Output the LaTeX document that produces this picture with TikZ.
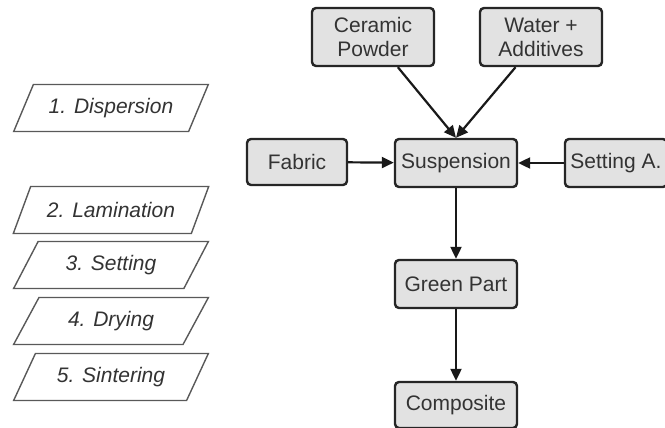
\documentclass[tikz,border=0pt]{standalone}
\usepackage{fontspec}
\setmainfont{Liberation Sans}
\usetikzlibrary{arrows.meta,shapes.geometric}
\definecolor{boxgray}{HTML}{E2E2E2}
\definecolor{txtgray}{HTML}{333333}
\begin{document}
\begin{tikzpicture}
			[x=0.5pt,y=-0.5pt,font=\fontsize{10.5}{12}\selectfont,text=txtgray,
			box/.style={shape=rectangle,rounded corners=2pt,draw=black!85,fill=boxgray,
				line width=1.2pt,minimum width=61pt,minimum height=24pt,inner sep=2pt,align=center},
			stage/.style={shape=trapezium,trapezium left angle=62,trapezium right angle=118,
				trapezium stretches=true,draw=black!65,fill=white,line width=0.7pt,
				minimum width=98pt,minimum height=23.5pt,font=\fontsize{10.5}{12}\selectfont\itshape},
			arc/.style={->,>={Triangle[length=6pt,width=5.5pt]},line width=1.1pt,draw=black!90}]
			\useasboundingbox (0,0) rectangle (665,428);
			\node (cer) [box,minimum height=29pt] at (373,37) {Ceramic\\Powder};
			\node (wat) [box,minimum height=29pt] at (541,37) {Water +\\Additives};
			\node (fab) [box,minimum width=50pt,minimum height=23pt] at (297,162) {Fabric};
			\node (sus) [box] at (456,163) {Suspension};
			\node (set) [box,minimum width=51pt] at (616,163) {Setting A.};
			\node (grn) [box] at (456,284) {Green Part};
			\node (cmp) [box,minimum height=23pt] at (456,405) {Composite};
			
			\node (s1) [stage] at (111,108) {1. Dispersion};
			\node (s2) [stage] at (111,210) {2. Lamination};
			\node (s3) [stage] at (111,265) {3. Setting};
			\node (s4) [stage] at (111,321) {4. Drying};
			\node (s5) [stage] at (111,377) {5. Sintering};
			
			\draw [arc] (cer) to (sus.north);
			\draw [arc] (wat) to (sus.north);
			\draw [arc] (fab) to (sus);
			\draw [arc] (set) to (sus);
			\draw [arc] (sus) to (grn);
			\draw [arc] (grn) to (cmp);
			\end{tikzpicture}
\end{document}
